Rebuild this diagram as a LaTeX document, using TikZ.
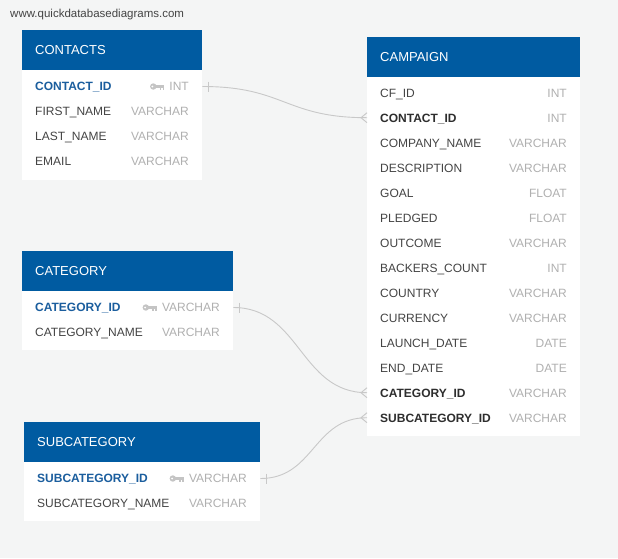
\documentclass[tikz,border=0pt]{standalone}
\usepackage{fontspec}
\setmainfont{Liberation Sans}

\definecolor{bggrey}{HTML}{F4F5F5}
\definecolor{hdrblue}{HTML}{005BA1}
\definecolor{pkblue}{HTML}{1B5E9E}
\definecolor{txtdark}{HTML}{444444}
\definecolor{txtfk}{HTML}{2E2E2E}
\definecolor{typegrey}{HTML}{B0B0B0}
\definecolor{keygrey}{HTML}{C4C4C4}
\definecolor{linegrey}{HTML}{C8C8C8}

\tikzset{
  tblhead/.style={shape=rectangle,fill=hdrblue,text=white,anchor=north west,minimum height=40pt,inner xsep=13pt,align=left,font=\fontsize{13}{15}\selectfont,text height=9.3pt,text depth=0pt},
  tblbody/.style={shape=rectangle,fill=white,anchor=north west,inner sep=0pt},
  colname/.style={anchor=west,inner sep=0pt,text=txtdark,font=\fontsize{12}{14}\selectfont,text height=8.6pt,text depth=0pt},
  pkname/.style={colname,text=pkblue,font=\fontsize{12}{14}\selectfont\bfseries},
  fkname/.style={colname,text=txtfk,font=\fontsize{12}{14}\selectfont\bfseries},
  coltype/.style={colname,anchor=east,text=typegrey},
  relline/.style={draw=linegrey,line width=0.9pt},
  keyicon/.pic={
    \fill[keygrey] (-11,0) circle (3.2pt);
    \fill[white] (-11.8,0) circle (1pt);
    \fill[keygrey] (-9,-1.3) rectangle (0,1.3);
    \fill[keygrey] (-4.5,1.3) rectangle (-2.8,3.6);
    \fill[keygrey] (-1.6,1.3) rectangle (0,3);
  }
}

\begin{document}
\begin{tikzpicture}[x=1pt,y=-1pt]
\fill[bggrey] (0,0) rectangle (618,558);
\useasboundingbox (0,0) rectangle (618,558);

\node[anchor=west,inner sep=0pt,text=txtdark,font=\fontsize{11.5}{13}\selectfont] (site) at (10,15) {www.quickdatabasediagrams.com};

% CONTACTS
\node[tblbody,minimum width=180pt,minimum height=110pt] (contactsbody) at (22,70) {};
\node[tblhead,text width=154pt] (contacts) at (22,30) {CONTACTS};
\node[pkname] (contactid) at (35,86.5) {CONTACT\_ID};
\node[coltype] (contactidtype) at (189,86.5) {INT};
\pic at ([xshift=-5pt]contactidtype.west) {keyicon};
\node[colname] (firstname) at (35,111.5) {FIRST\_NAME};
\node[coltype] (firstnametype) at (189,111.5) {VARCHAR};
\node[colname] (lastname) at (35,136.5) {LAST\_NAME};
\node[coltype] (lastnametype) at (189,136.5) {VARCHAR};
\node[colname] (email) at (35,161.5) {EMAIL};
\node[coltype] (emailtype) at (189,161.5) {VARCHAR};

% CAMPAIGN
\node[tblbody,minimum width=213pt,minimum height=360pt] (campaignbody) at (367,76) {};
\node[tblhead,text width=187pt] (campaign) at (367,37) {CAMPAIGN};
\node[colname] (cfid) at (380,92.7) {CF\_ID};
\node[coltype] (cfidtype) at (567,92.7) {INT};
\node[fkname] (cpcontactid) at (380,117.7) {CONTACT\_ID};
\node[coltype] (cpcontactidtype) at (567,117.7) {INT};
\node[colname] (companyname) at (380,142.7) {COMPANY\_NAME};
\node[coltype] (companynametype) at (567,142.7) {VARCHAR};
\node[colname] (description) at (380,167.7) {DESCRIPTION};
\node[coltype] (descriptiontype) at (567,167.7) {VARCHAR};
\node[colname] (goal) at (380,192.7) {GOAL};
\node[coltype] (goaltype) at (567,192.7) {FLOAT};
\node[colname] (pledged) at (380,217.7) {PLEDGED};
\node[coltype] (pledgedtype) at (567,217.7) {FLOAT};
\node[colname] (outcome) at (380,242.7) {OUTCOME};
\node[coltype] (outcometype) at (567,242.7) {VARCHAR};
\node[colname] (backerscount) at (380,267.7) {BACKERS\_COUNT};
\node[coltype] (backerscounttype) at (567,267.7) {INT};
\node[colname] (country) at (380,292.7) {COUNTRY};
\node[coltype] (countrytype) at (567,292.7) {VARCHAR};
\node[colname] (currency) at (380,317.7) {CURRENCY};
\node[coltype] (currencytype) at (567,317.7) {VARCHAR};
\node[colname] (launchdate) at (380,342.7) {LAUNCH\_DATE};
\node[coltype] (launchdatetype) at (567,342.7) {DATE};
\node[colname] (enddate) at (380,367.7) {END\_DATE};
\node[coltype] (enddatetype) at (567,367.7) {DATE};
\node[fkname] (cpcategoryid) at (380,392.7) {CATEGORY\_ID};
\node[coltype] (cpcategoryidtype) at (567,392.7) {VARCHAR};
\node[fkname] (cpsubcategoryid) at (380,417.7) {SUBCATEGORY\_ID};
\node[coltype] (cpsubcategoryidtype) at (567,417.7) {VARCHAR};

% CATEGORY
\node[tblbody,minimum width=211pt,minimum height=59pt] (categorybody) at (22,291) {};
\node[tblhead,text width=185pt] (category) at (22,251) {CATEGORY};
\node[pkname] (categoryid) at (35,307.5) {CATEGORY\_ID};
\node[coltype] (categoryidtype) at (220,307.5) {VARCHAR};
\pic at ([xshift=-5pt]categoryidtype.west) {keyicon};
\node[colname] (categoryname) at (35,332.5) {CATEGORY\_NAME};
\node[coltype] (categorynametype) at (220,332.5) {VARCHAR};

% SUBCATEGORY
\node[tblbody,minimum width=236pt,minimum height=59pt] (subcategorybody) at (24,462) {};
\node[tblhead,text width=210pt] (subcategory) at (24,422) {SUBCATEGORY};
\node[pkname] (subcategoryid) at (37,478.5) {SUBCATEGORY\_ID};
\node[coltype] (subcategoryidtype) at (247,478.5) {VARCHAR};
\pic at ([xshift=-5pt]subcategoryidtype.west) {keyicon};
\node[colname] (subcategoryname) at (37,503.5) {SUBCATEGORY\_NAME};
\node[coltype] (subcategorynametype) at (247,503.5) {VARCHAR};

% relations
\coordinate (r1a) at (contactsbody.east |- contactid);
\coordinate (r1b) at (campaignbody.west |- cpcontactid);
\coordinate (r2a) at (categorybody.east |- categoryid);
\coordinate (r2b) at (campaignbody.west |- cpcategoryid);
\coordinate (r3a) at (subcategorybody.east |- subcategoryid);
\coordinate (r3b) at (campaignbody.west |- cpsubcategoryid);

\draw[relline] (r1a) .. controls +(82,0) and +(-82,0) .. (r1b);
\draw[relline] (r2a) .. controls +(67,0) and +(-67,0) .. (r2b);
\draw[relline] (r3a) .. controls +(54,0) and +(-54,0) .. (r3b);

\draw[relline] (r1a) ++(6,-5) -- ++(0,10);
\draw[relline] (r2a) ++(6,-5) -- ++(0,10);
\draw[relline] (r3a) ++(6,-5) -- ++(0,10);

\draw[relline] (r1b) ++(0,-5) -- ++(-6,5) -- ++(6,5);
\draw[relline] (r2b) ++(0,-5) -- ++(-6,5) -- ++(6,5);
\draw[relline] (r3b) ++(0,-5) -- ++(-6,5) -- ++(6,5);
\end{tikzpicture}
\end{document}
